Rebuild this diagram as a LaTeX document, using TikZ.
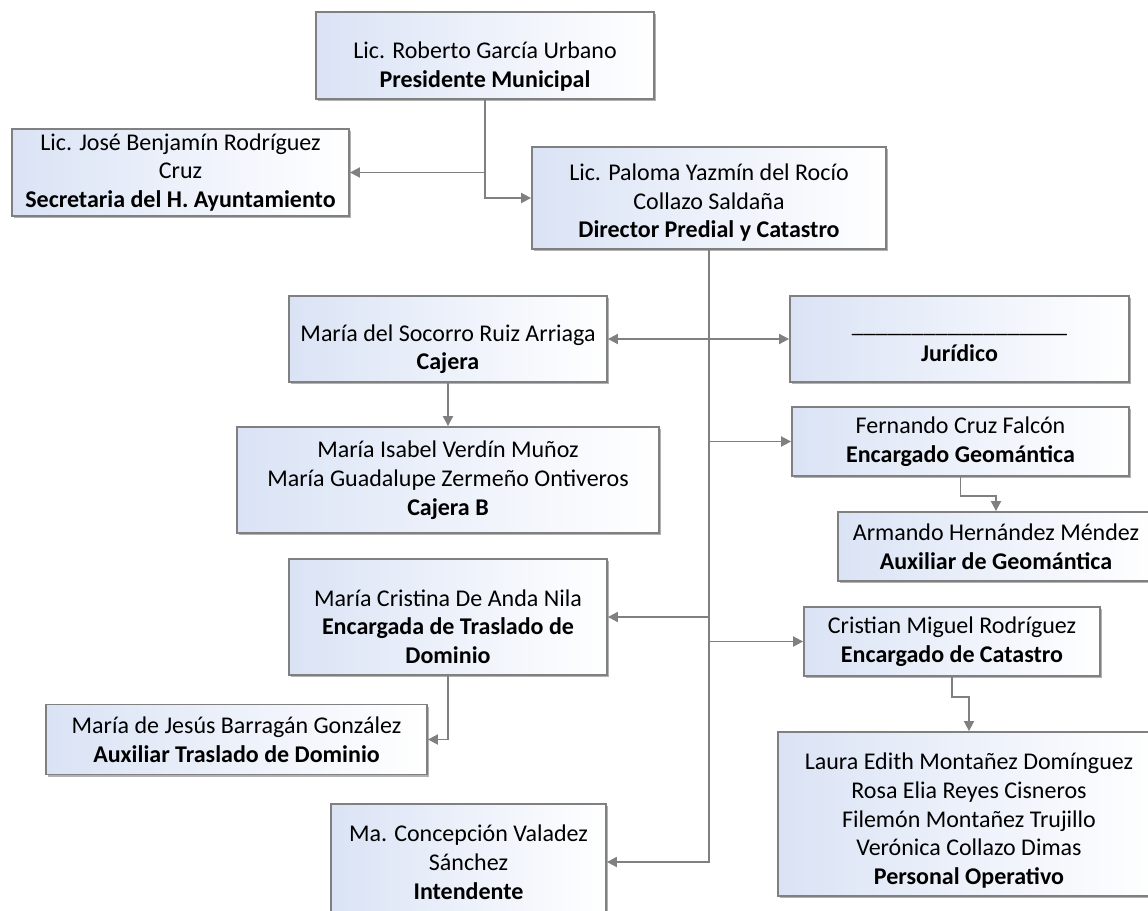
\documentclass[tikz,border=0pt]{standalone}
\usepackage{fontspec}
\setmainfont{Carlito}
\usetikzlibrary{arrows.meta,shadows}
\definecolor{boxblue}{RGB}{218,227,245}
\definecolor{edgegray}{RGB}{128,128,128}
\begin{document}
\begin{tikzpicture}[x=0.5pt,y=-0.5pt,
  unit/.style={draw=edgegray,line width=0.9pt,left color=boxblue,right color=white,
    align=center,inner xsep=2pt,inner ysep=1pt,font=\fontsize{12}{14.4}\selectfont,
    drop shadow={shadow xshift=1.2pt,shadow yshift=-1.2pt,fill=black,opacity=0.3}},
  link/.style={draw=edgegray,line width=0.9pt,-{Triangle[length=5pt,width=5pt]}},
  both/.style={draw=edgegray,line width=0.9pt,{Triangle[length=5pt,width=5pt]}-{Triangle[length=5pt,width=5pt]}}]
\useasboundingbox (0,0) rectangle (1148,911);

\node[unit,minimum width=169pt,minimum height=43.5pt,text height=33.4pt] (pres) at (485,55.5) {Lic. Roberto García Urbano\\\textbf{Presidente Municipal}};
\node[unit,minimum width=168.5pt,minimum height=43.5pt] (secr) at (180.5,172.5) {Lic. José Benjamín Rodríguez\\Cruz\\\textbf{Secretaria del H. Ayuntamiento}};
\node[unit,minimum width=177pt,minimum height=51pt,text height=41.8pt] (dir) at (709,198) {Lic. Paloma Yazmín del Rocío\\Collazo Saldaña\\\textbf{Director Predial y Catastro}};
\node[unit,minimum width=159pt,minimum height=43pt,text height=33pt] (cajera) at (448,339) {María del Socorro Ruiz Arriaga\\\textbf{Cajera}};
\node[unit,minimum width=169.5pt,minimum height=43pt,text height=22.4pt] (jur) at (959.5,339) {\_\_\_\_\_\_\_\_\_\_\_\_\_\_\_\_\_\_\\\textbf{Jurídico}};
\node[unit,minimum width=211pt,minimum height=53pt] (cajb) at (448,480) {María Isabel Verdín Muñoz\\María Guadalupe Zermeño Ontiveros\\\textbf{Cajera B}};
\node[unit,minimum width=168.5pt,minimum height=34.5pt] (geo) at (960.5,441.5) {Fernando Cruz Falcón\\\textbf{Encargado Geomántica}};
\node[unit,minimum width=158pt,minimum height=34.5pt] (auxgeo) at (996,546.5) {Armando Hernández Méndez\\\textbf{Auxiliar de Geomántica}};
\node[unit,minimum width=159pt,minimum height=58pt,text height=46.8pt] (cris) at (448,617) {María Cristina De Anda Nila\\\textbf{Encargada de Traslado de}\\\textbf{Dominio}};
\node[unit,minimum width=148pt,minimum height=34.5pt] (cristian) at (952,641.5) {Cristian Miguel Rodríguez\\\textbf{Encargado de Catastro}};
\node[unit,minimum width=190.5pt,minimum height=35pt] (barr) at (236.5,739.5) {María de Jesús Barragán González\\\textbf{Auxiliar Traslado de Dominio}};
\node[unit,minimum width=191pt,minimum height=82pt,text height=72.6pt] (pers) at (969,814) {Laura Edith Montañez Domínguez\\Rosa Elia Reyes Cisneros\\Filemón Montañez Trujillo\\Verónica Collazo Dimas\\\textbf{Personal Operativo}};
\node[unit,minimum width=137.5pt,minimum height=58pt] (intend) at (468.5,862) {Ma. Concepción Valadez\\Sánchez\\\textbf{Intendente}};

\draw[link] (pres.south) |- (secr.east);
\draw[link] (pres.south) |- (dir.west);

\draw[link] (dir.south) |- (intend.east);
\draw[both] (cajera.east) -- (jur.west);
\draw[link] (dir.south |- geo.west) -- (geo.west);
\draw[link] (dir.south |- cris.east) -- (cris.east);
\draw[link] (dir.south |- cristian.west) -- (cristian.west);

\draw[link] (cajera) -- (cajb);
\draw[link] (cris.south) |- (barr.east);
\draw[link] (geo.south) -- ++(0,19) -| (auxgeo.north);
\draw[link] (cristian.south) -- ++(0,20) -| (pers.north);
\end{tikzpicture}
\end{document}
